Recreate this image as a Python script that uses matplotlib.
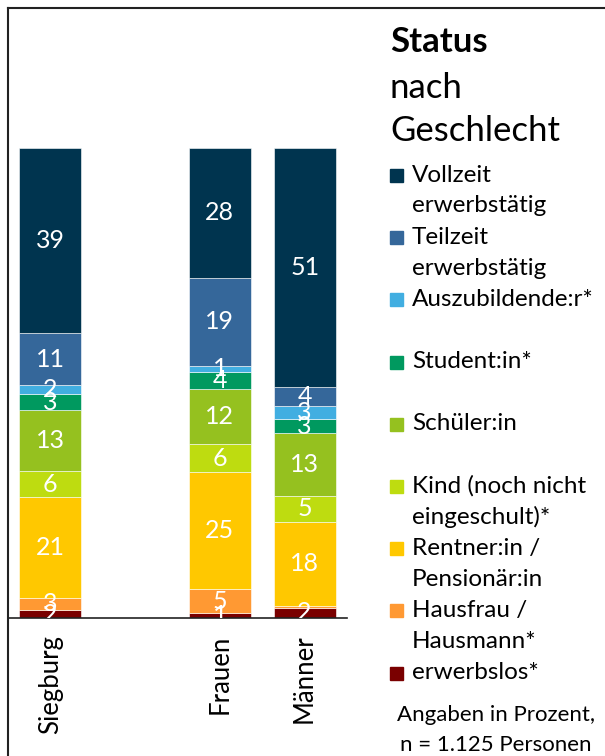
import numpy as np
import matplotlib.pyplot as plt
from matplotlib.patches import Rectangle
from matplotlib.lines import Line2D

plt.rcParams['font.family'] = ['Lato', 'DejaVu Sans']

"""Data (Prozent)"""
groups = ['Siegburg', 'Frauen', 'Männer']
group_pos = [0, 2, 3]          # gap between Siegburg and the gender bars

# bottom -> top of each bar
categories = ['erwerbslos*', 'Hausfrau /\nHausmann*', 'Rentner:in /\nPensionär:in',
              'Kind (noch nicht\neingeschult)*', 'Schüler:in', 'Student:in*',
              'Auszubildende:r*', 'Teilzeit\nerwerbstätig', 'Vollzeit\nerwerbstätig']
siegburg = [1.7, 2.6, 21.4, 5.6, 12.9, 3.4, 2.0, 11.0, 39.4]
frauen = [1.0, 5.2, 24.8, 6.0, 11.8, 3.6, 1.2, 18.8, 27.6]
maenner = [2.2, 0.4, 17.9, 5.4, 13.4, 3.0, 2.9, 3.9, 50.9]
colors = ['#7a0000', '#ff9933', '#ffc800', '#bedc10', '#95c11f',
          '#00995f', '#41aee1', '#35679a', '#00344f']

values = np.array([siegburg, frauen, maenner])   # groups x categories

W, H = 605, 756
fig = plt.figure(figsize=(W / 100, H / 100), dpi=100)
ax = fig.add_axes([8 / W, 1 - 618 / H, (347 - 8) / W, (618 - 148) / H])

bottoms = np.zeros(len(groups))
for j, cat in enumerate(categories):
    vals = values[:, j]
    ax.bar(group_pos, vals, width=0.73, bottom=bottoms, color=colors[j],
           edgecolor='white', linewidth=0.4)
    for x, b, v in zip(group_pos, bottoms, vals):
        if v >= 0.5:
            ax.text(x, b + v / 2, '%d' % round(v), ha='center', va='center',
                    color='white', fontsize=18, clip_on=True)
    bottoms += vals

ax.set_xlim(-0.5, 3.5)
ax.set_ylim(0, 100)
ax.set_yticks([])
ax.set_xticks(group_pos)
ax.set_xticklabels(groups, rotation=90, fontsize=18.5, va='top')
ax.tick_params(axis='x', length=0, pad=12)
for s in ['top', 'right', 'left']:
    ax.spines[s].set_visible(False)
ax.spines['bottom'].set_color('#222222')
ax.spines['bottom'].set_linewidth(1.2)

# frame of the original chart (top and left edge)
fig.add_artist(Line2D([8 / W, 8 / W], [0, 1 - 8 / H], color='#222222', lw=1.5))
fig.add_artist(Line2D([8 / W, 1], [1 - 8 / H, 1 - 8 / H], color='#222222', lw=1.5))

# title
fig.text(390 / W, 1 - 42 / H, 'Status', fontsize=25, fontweight='bold', va='center')
fig.text(390 / W, 1 - 88 / H, 'nach', fontsize=25, va='center')
fig.text(390 / W, 1 - 131 / H, 'Geschlecht', fontsize=25, va='center')

# legend, top entry first
for i, j in enumerate(range(len(categories) - 1, -1, -1)):
    y = 175 + i * 62.2
    fig.add_artist(Rectangle((390 / W, 1 - (y + 7) / H), 13 / W, 13 / H,
                             color=colors[j], transform=fig.transFigure))
    lines = categories[j].split('\n')
    for k, line in enumerate(lines):
        fig.text(412 / W, 1 - (y + k * 31) / H, line, fontsize=17.5, va='center')

fig.text(496 / W, 1 - 715 / H, 'Angaben in Prozent,', fontsize=16, ha='center', va='center')
fig.text(496 / W, 1 - 745 / H, 'n = 1.125 Personen', fontsize=16, ha='center', va='center')

fig.savefig('out.png', dpi=100)
